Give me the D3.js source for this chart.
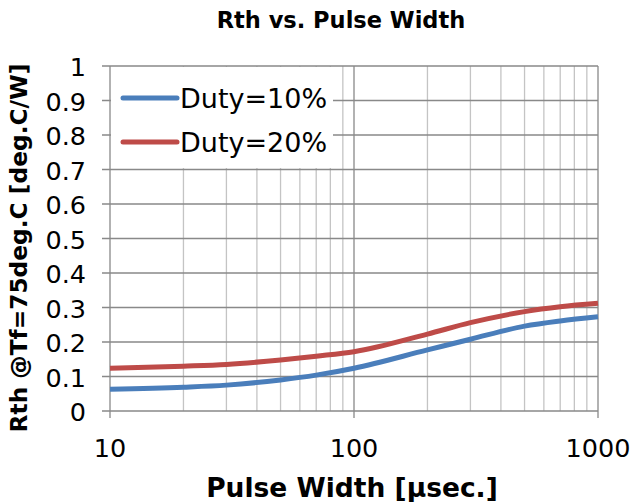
<!DOCTYPE html>
<meta charset="utf-8">
<style>
 body { margin: 0; background: #fff; }
 text { font-family: "DejaVu Sans", Verdana, sans-serif; fill: #000; }
</style>
<body>
<script src="https://d3js.org/d3.v7.min.js"></script>
<script>

// data
var pulseWidth = [10, 20, 30, 50, 70, 100, 200, 300, 500, 700, 1000];
var duty10 = [0.063, 0.069, 0.075, 0.090, 0.104, 0.124, 0.177, 0.208, 0.246, 0.261, 0.273];
var duty20 = [0.124, 0.130, 0.135, 0.148, 0.159, 0.172, 0.223, 0.256, 0.288, 0.302, 0.312];
var seriesNames = ["Duty=10%", "Duty=20%"];
var seriesColors = ["#4a7ebb", "#be4b48"];
var xTicks = [10, 100, 1000];
var yTicks = d3.range(0, 11).map(function(i) { return i / 10; });

var margin = {top: 66, right: 34, bottom: 91, left: 110},
    width = 632 - margin.left - margin.right,
    height = 502 - margin.top - margin.bottom;

var x = d3.scaleLog().domain([10, 1000]).range([0, width]);
var y = d3.scaleLinear().domain([0, 1]).range([height, 0]);

var svg = d3.select("body").append("svg")
    .attr("width", 632)
    .attr("height", 502);

var g = svg.append("g")
    .attr("transform", "translate(" + margin.left + "," + margin.top + ")");

// minor vertical grid
var minor = [];
[10, 100].forEach(function(d) {
  for (var k = 2; k <= 9; k++) minor.push(d * k);
});
g.selectAll(".minor")
  .data(minor)
  .enter().append("line")
    .attr("x1", function(d) { return x(d); })
    .attr("x2", function(d) { return x(d); })
    .attr("y1", 0).attr("y2", height)
    .style("stroke", "#c4c4c4").style("stroke-width", 1.3);

// major vertical grid
g.selectAll(".vmajor")
  .data(xTicks)
  .enter().append("line")
    .attr("x1", function(d) { return x(d); })
    .attr("x2", function(d) { return x(d); })
    .attr("y1", 0).attr("y2", height + 7)
    .style("stroke", "#898989").style("stroke-width", 1.3);

// horizontal grid
g.selectAll(".hgrid")
  .data(yTicks)
  .enter().append("line")
    .attr("x1", -8).attr("x2", width)
    .attr("y1", function(d) { return y(d); })
    .attr("y2", function(d) { return y(d); })
    .style("stroke", "#898989").style("stroke-width", 1.3);

// y tick labels
g.selectAll(".ylab")
  .data(yTicks)
  .enter().append("text")
    .attr("x", -24)
    .attr("y", function(d) { return y(d) + 1; })
    .attr("dy", "0.36em")
    .attr("text-anchor", "end")
    .style("font-size", "25.5px")
    .text(function(d) { return d3.format("~g")(d); });

// x tick labels
g.selectAll(".xlab")
  .data(xTicks)
  .enter().append("text")
    .attr("x", function(d) { return x(d); })
    .attr("y", height + 46)
    .attr("text-anchor", "middle")
    .style("font-size", "25.5px")
    .text(function(d) { return d; });

// lines
var line = d3.line()
    .x(function(d, i) { return x(pulseWidth[i]); })
    .y(function(d) { return y(d); })
    .curve(d3.curveMonotoneX);

[duty10, duty20].forEach(function(s, i) {
  g.append("path")
    .datum(s)
    .attr("d", line)
    .style("fill", "none")
    .style("stroke", seriesColors[i])
    .style("stroke-width", 5);
});

// legend
var legend = g.append("g");
legend.append("rect")
  .attr("x", 1).attr("y", 1)
  .attr("width", 222).attr("height", 101)
  .style("fill", "#fff");
seriesNames.forEach(function(name, i) {
  var ly = 32 + i * 44;
  legend.append("line")
    .attr("x1", 13).attr("x2", 67)
    .attr("y1", ly).attr("y2", ly)
    .style("stroke", seriesColors[i])
    .style("stroke-width", 5)
    .style("stroke-linecap", "round");
  legend.append("text")
    .attr("x", 70).attr("y", ly)
    .attr("dy", "0.36em")
    .style("font-size", "27px")
    .text(name);
});

// titles
svg.append("text")
  .attr("x", 341).attr("y", 28)
  .attr("text-anchor", "middle")
  .style("font-size", "22.5px").style("font-weight", "bold")
  .text("Rth vs. Pulse Width");

svg.append("text")
  .attr("x", 352).attr("y", 497)
  .attr("text-anchor", "middle")
  .style("font-size", "26.5px").style("font-weight", "bold")
  .text("Pulse Width [µsec.]");

svg.append("text")
  .attr("transform", "translate(27,248) rotate(-90)")
  .attr("text-anchor", "middle")
  .style("font-size", "23.3px").style("font-weight", "bold")
  .text("Rth @Tf=75deg.C [deg.C/W]");

</script>
</body>
